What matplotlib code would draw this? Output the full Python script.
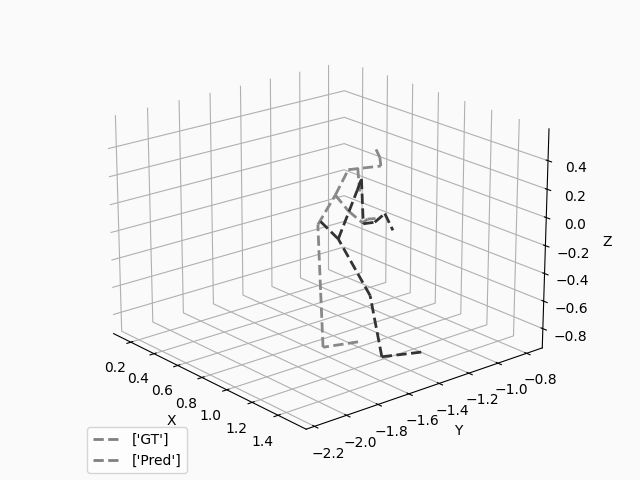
import matplotlib
matplotlib.use("Agg")
import matplotlib.pyplot as plt
from matplotlib.lines import Line2D

plt.rcParams["axes3d.automargin"] = True

# Articulaciones de la pose real (GT)
gt_x = [0.99, 0.99, 0.99, 0.99, 0.99, 0.99, 0.99, 0.99, 0.99,
        0.99, 0.99, 0.99, 0.99, 0.99, 0.99]
gt_y = [-1.394, -1.627, -1.643, -1.660, -1.547, -1.463, -1.248, -1.255, -1.281,
        -1.401, -1.388, -1.461, -1.368, -1.334, -1.281]
gt_z = [-0.909, -0.866, -0.447, 0.021, 0.194, 0.347, 0.311, 0.373, 0.437,
        0.341, 0.172, 0.056, -0.056, -0.040, -0.052]
gt_bones = [(0, 1), (1, 2), (2, 3), (3, 4), (4, 5), (5, 6), (6, 7), (7, 8),
            (9, 10), (4, 11), (11, 12), (12, 13), (13, 14)]

# Articulaciones de la pose predicha (Pred)
pred_x = [1.30, 1.30, 1.30, 1.30, 1.30, 1.30, 1.30,
          1.30, 1.30, 1.30, 1.30]
pred_y = [-1.239, -1.504, -1.584, -1.790, -1.916, -1.670, -1.644,
          -1.631, -1.557, -1.492, -1.438]
pred_z = [-0.908, -0.847, -0.383, 0.077, 0.251, 0.375, 0.443,
          0.132, 0.120, 0.160, 0.027]
pred_bones = [(0, 1), (1, 2), (2, 3), (3, 4), (3, 5), (5, 6),
              (6, 7), (7, 8), (8, 9), (9, 10)]

labels = [str(['GT']), str(['Pred'])]

fig = plt.figure(figsize=(6.4, 4.8), dpi=100, facecolor="#fafafa")
ax = fig.add_subplot(projection="3d")
fig.subplots_adjust(left=0, right=1, bottom=0, top=1)
ax.set_facecolor("#fafafa")
for eje in (ax.xaxis, ax.yaxis, ax.zaxis):
    eje.set_pane_color((1, 1, 1, 0))

for i, j in gt_bones:
    ax.plot([gt_x[i], gt_x[j]], [gt_y[i], gt_y[j]], [gt_z[i], gt_z[j]],
            color="#888888", linestyle="--", linewidth=2)
for i, j in pred_bones:
    ax.plot([pred_x[i], pred_x[j]], [pred_y[i], pred_y[j]], [pred_z[i], pred_z[j]],
            color="#333333", linestyle="--", linewidth=2)

ax.view_init(elev=20, azim=-40)
ax.set_xlim(0.08, 1.58)
ax.set_ylim(-2.22, -0.72)
ax.set_zlim(-0.91, 0.59)
ax.set_xlabel("X")
ax.set_ylabel("Y")
ax.set_zlabel("Z")

handles = [Line2D([], [], color="gray", linestyle="--", linewidth=2),
           Line2D([], [], color="gray", linestyle="--", linewidth=2)]
ax.legend(handles, labels, loc="lower left")

fig.savefig("out.png", dpi=100, facecolor=fig.get_facecolor())
